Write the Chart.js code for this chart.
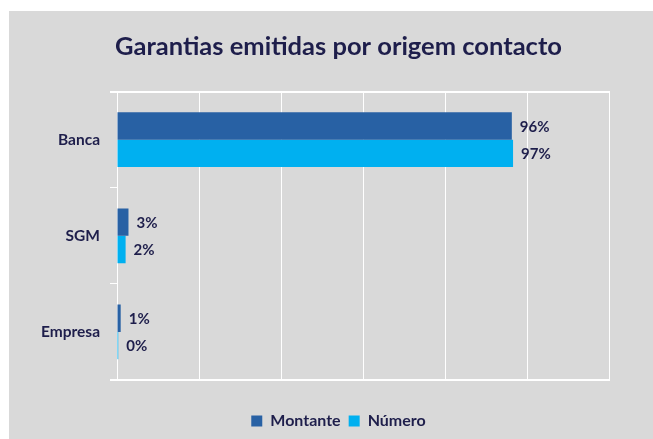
<!DOCTYPE html>
<html lang="pt">
<head>
    <meta charset="UTF-8">
    <script src="https://cdn.jsdelivr.net/npm/chart.js"></script>
    <style>
        body {
            margin: 0;
            background: #ffffff;
        }
        .chart-box {
            position: absolute;
            left: 9px;
            top: 11px;
            width: 644px;
            height: 428px;
            background: #d9d9d9;
        }
    </style>
    <title>Garantias emitidas por origem contacto</title>
</head>
<body>
    <div class="chart-box">
        <canvas id="origemChart" width="644" height="428"></canvas>
    </div>
    <script>
        // data (in %)
        const categories = ['Banca', 'SGM', 'Empresa'];
        const montante = [96.3, 2.8, 0.9];
        const numero = [96.6, 2.1, 0.3];
        const seriesNames = ['Montante', 'Número'];

        const navy = '#1e1e4b';
        const font = 'Lato';

        // value labels right of each bar
        const barLabels = {
            id: 'barLabels',
            afterDatasetsDraw(chart) {
                const c = chart.ctx;
                c.save();
                c.font = 'bold 15px ' + font;
                c.fillStyle = navy;
                c.textAlign = 'left';
                c.textBaseline = 'middle';
                chart.data.datasets.forEach((ds, i) => {
                    chart.getDatasetMeta(i).data.forEach((bar, j) => {
                        c.fillText(Math.round(ds.data[j]) + '%', bar.x + 8, bar.y + 1);
                    });
                });
                c.restore();
            }
        };

        // white lines along top and bottom of the plot area
        const frameLines = {
            id: 'frameLines',
            afterDraw(chart) {
                const a = chart.chartArea;
                const c = chart.ctx;
                const x0 = Math.round(a.left) - 7;
                const w = Math.round(a.right) - x0 + 1;
                c.save();
                c.fillStyle = '#ffffff';
                c.fillRect(x0, Math.round(a.top) - 1, w, 2);
                c.fillRect(x0, Math.round(a.bottom) - 1, w, 2);
                c.restore();
            }
        };

        new Chart(document.getElementById('origemChart'), {
            type: 'bar',
            data: {
                labels: categories,
                datasets: [
                    {
                        label: seriesNames[0],
                        data: montante,
                        backgroundColor: '#2861a4',
                        categoryPercentage: 0.57,
                        barPercentage: 1.0
                    },
                    {
                        label: seriesNames[1],
                        data: numero,
                        backgroundColor: '#00b0f0',
                        categoryPercentage: 0.57,
                        barPercentage: 1.0
                    }
                ]
            },
            options: {
                indexAxis: 'y',
                responsive: false,
                animation: false,
                layout: {
                    padding: { left: 15, right: 0, top: 0, bottom: 0 }
                },
                scales: {
                    x: {
                        min: 0,
                        max: 120,
                        ticks: { display: false, stepSize: 20 },
                        grid: { color: '#ffffff', lineWidth: 1, drawTicks: false },
                        border: { display: true, color: '#ffffff' },
                        afterFit(scale) { scale.height = 25; }
                    },
                    y: {
                        grid: {
                            offset: true,
                            drawOnChartArea: false,
                            color: '#ffffff',
                            tickLength: 7
                        },
                        border: { display: true, color: '#ffffff' },
                        ticks: {
                            color: navy,
                            padding: 10,
                            font: { family: font, size: 15.5, weight: 'bold' }
                        },
                        afterFit(scale) { scale.width = 93; }
                    },
                    y2: {
                        type: 'category',
                        position: 'right',
                        ticks: { display: false },
                        grid: { display: false },
                        border: { display: false },
                        afterFit(scale) { scale.width = 44; }
                    }
                },
                plugins: {
                    title: {
                        display: true,
                        text: 'Garantias emitidas por origem contacto',
                        color: navy,
                        font: { family: font, size: 25.5, weight: 'bold' },
                        padding: { top: 20, bottom: 30 }
                    },
                    legend: {
                        position: 'bottom',
                        labels: {
                            color: navy,
                            boxWidth: 11,
                            boxHeight: 11,
                            padding: 8,
                            font: { family: font, size: 16, weight: 'bold' }
                        }
                    },
                    tooltip: { enabled: false }
                }
            },
            plugins: [barLabels, frameLines]
        });
    </script>
</body>
</html>
